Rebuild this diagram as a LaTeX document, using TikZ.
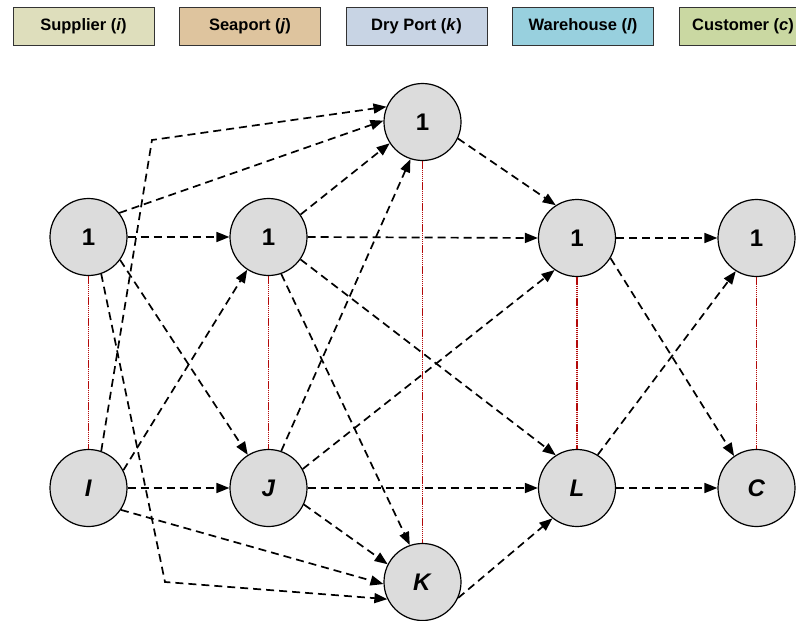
\documentclass[tikz,border=0pt]{standalone}
\usepackage{fontspec}
\setmainfont{Liberation Sans}
\usetikzlibrary{arrows.meta}
\definecolor{supfill}{RGB}{222,222,188}
\definecolor{seafill}{RGB}{222,196,158}
\definecolor{dryfill}{RGB}{200,212,228}
\definecolor{warefill}{RGB}{152,208,222}
\definecolor{custfill}{RGB}{202,216,162}
\definecolor{hubgray}{RGB}{220,220,220}
\definecolor{linkred}{RGB}{180,10,10}
\begin{document}
\begin{tikzpicture}[x=1pt,y=-1pt,
  hub/.style={circle,draw=black,line width=1.2pt,fill=hubgray,minimum size=77pt,
    inner sep=0pt,font=\fontsize{24}{24}\selectfont\bfseries},
  flow/.style={draw=black,line width=1.7pt,dash pattern=on 8pt off 5pt,
    -{Triangle[length=13pt,width=10pt]}},
  link/.style={draw=linkred,line width=1.6pt,dash pattern=on 1.4pt off 0.7pt},
  legend/.style={draw=black!80,line width=1pt,minimum width=141pt,minimum height=38pt,
    inner sep=0pt,font=\fontsize{16.5}{16.5}\selectfont\bfseries}]
\useasboundingbox (0,0) rectangle (796,621);

% legend
\node[legend,fill=supfill]  (legS) at (83.5,26)  {Supplier (\textit{i})};
\node[legend,fill=seafill]  (legP) at (250,26)   {Seaport (\textit{j})};
\node[legend,fill=dryfill]  (legD) at (416.5,26) {Dry Port (\textit{k})};
\node[legend,fill=warefill] (legW) at (583,26)   {Warehouse (\textit{l})};
\node[legend,fill=custfill,minimum width=128pt] (legC) at (743,26) {Customer (\textit{c})};

% nodes
\node[hub] (s1) at (88.5,237)  {1};
\node[hub] (sI) at (88.5,488)  {\textit{I}};
\node[hub] (p1) at (268.5,237) {1};
\node[hub] (pJ) at (268.5,488) {\textit{J}};
\node[hub] (d1) at (422.5,122) {1};
\node[hub] (dK) at (422.5,582) {\textit{K}};
\node[hub] (w1) at (577,238)   {1};
\node[hub] (wL) at (577,488)   {\textit{L}};
\node[hub] (c1) at (756.5,238) {1};
\node[hub] (cC) at (756.5,488) {\textit{C}};

% dotted links between first and last member of each tier
\draw[link] (s1.south) -- (sI.north);
\draw[link] (p1.south) -- (pJ.north);
\draw[link] (d1.south) -- (dK.north);
\draw[link] (w1.south) -- (wL.north);
\draw[link] (c1.south) -- (cC.north);

% bend points of the two routed flows
\coordinate (bendA) at (152,140);
\coordinate (bendB) at (165,582);

% supplier flows
\draw[flow] (sI.71) -- (bendA) -- (d1.157);
\draw[flow] (s1.38) -- (d1.178);
\draw[flow] (s1.east) -- (p1.west);
\draw[flow] (s1.-36) -- (pJ.122);
\draw[flow] (s1.-71) -- (bendB) -- (dK.206);
\draw[flow] (sI.27) -- (p1.237);
\draw[flow] (sI.east) -- (pJ.west);
\draw[flow] (sI.-34) -- (dK.183);

% seaport flows
\draw[flow] (p1.35) -- (d1.213);
\draw[flow] (p1.east) -- (w1.west);
\draw[flow] (p1.-35) -- (wL.123);
\draw[flow] (p1.-71) -- (dK.109);
\draw[flow] (pJ.71) -- (d1.252);
\draw[flow] (pJ.29) -- (w1.235);
\draw[flow] (pJ.east) -- (wL.west);
\draw[flow] (pJ.-25) -- (dK.153);

% dry port flows
\draw[flow] (d1.-25) -- (w1.123);
\draw[flow] (dK.-24) -- (wL.231);

% warehouse flows
\draw[flow] (w1.east) -- (c1.west);
\draw[flow] (w1.-31) -- (cC.125);
\draw[flow] (wL.58) -- (c1.238);
\draw[flow] (wL.east) -- (cC.west);
\end{tikzpicture}
\end{document}
